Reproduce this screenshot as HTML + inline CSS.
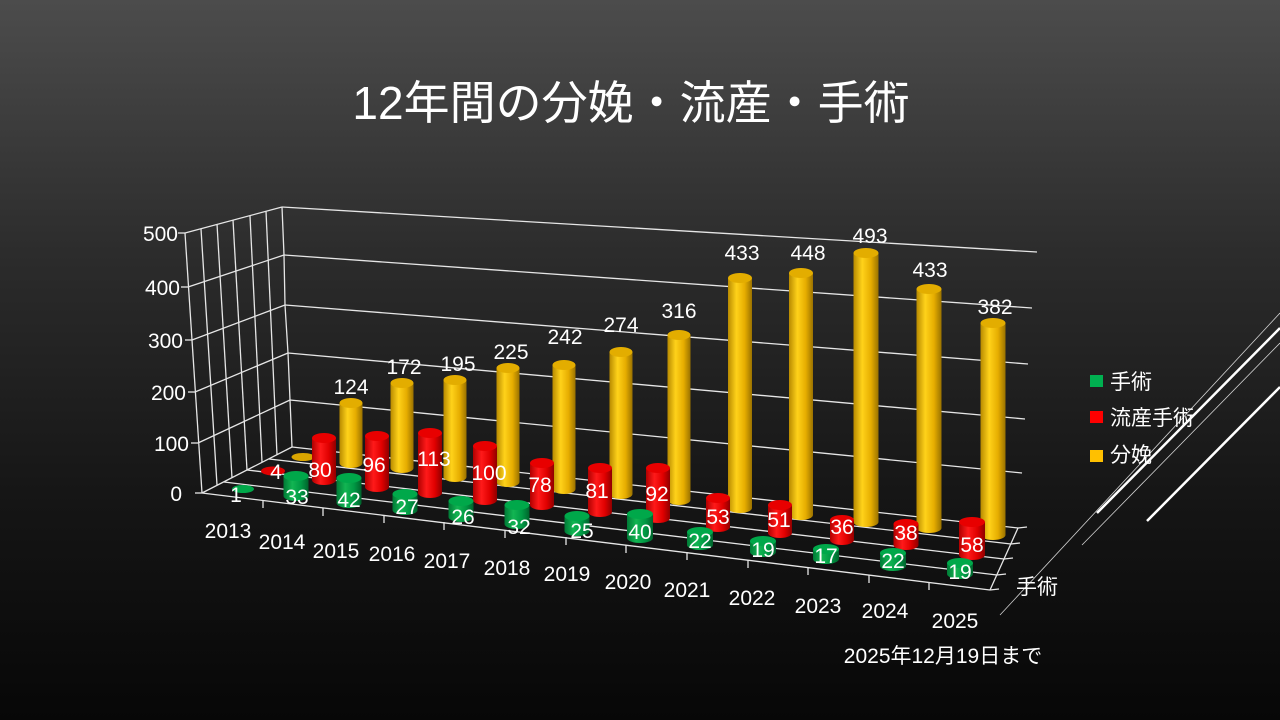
<!DOCTYPE html>
<html><head><meta charset="utf-8"><style>
html,body{margin:0;padding:0;}
body{width:1280px;height:720px;overflow:hidden;background:linear-gradient(180deg,#4c4c4c 0%,#2c2c2c 35%,#151515 70%,#070707 100%);}
svg{display:block;}
text{font-family:"Liberation Sans","Noto Sans CJK JP",sans-serif;fill:#fff;}
</style></head><body>
<svg width="1280" height="720" viewBox="0 0 1280 720" xmlns="http://www.w3.org/2000/svg">
<defs>
<linearGradient id="gy" x1="0" x2="1" y1="0" y2="0"><stop offset="0" stop-color="#b88a00"/><stop offset="0.35" stop-color="#ffd21a"/><stop offset="0.7" stop-color="#e6ad00"/><stop offset="1" stop-color="#9a7200"/></linearGradient>
<linearGradient id="gr" x1="0" x2="1" y1="0" y2="0"><stop offset="0" stop-color="#b00000"/><stop offset="0.35" stop-color="#ff1a1a"/><stop offset="0.7" stop-color="#e00000"/><stop offset="1" stop-color="#8f0000"/></linearGradient>
<linearGradient id="gg" x1="0" x2="1" y1="0" y2="0"><stop offset="0" stop-color="#007a36"/><stop offset="0.35" stop-color="#12b552"/><stop offset="0.7" stop-color="#009944"/><stop offset="1" stop-color="#00632c"/></linearGradient>
</defs>

<text x="631" y="119" font-size="46" text-anchor="middle">12年間の分娩・流産・手術</text>

<g stroke="#e6e6e6" stroke-width="1.3" fill="none">
<line x1="282" y1="207" x2="1037" y2="252"/>
<line x1="284" y1="255" x2="1032" y2="308"/>
<line x1="285" y1="305" x2="1028" y2="364"/>
<line x1="288" y1="353" x2="1025" y2="419"/>
<line x1="290" y1="400" x2="1022" y2="473"/>
<line x1="292" y1="447" x2="1018" y2="528"/>
<polyline points="282,207 284,255 285,305 288,353 290,400 292,447"/>
<line x1="185" y1="233" x2="282" y2="207"/>
<line x1="188" y1="287" x2="284" y2="255"/>
<line x1="192" y1="340" x2="285" y2="305"/>
<line x1="195" y1="392" x2="288" y2="353"/>
<line x1="198" y1="443" x2="290" y2="400"/>
<line x1="202" y1="493" x2="292" y2="447"/>
<line x1="185" y1="233" x2="202" y2="493"/>
<line x1="201" y1="229" x2="217" y2="485"/>
<line x1="217" y1="224" x2="232" y2="478"/>
<line x1="233" y1="220" x2="247" y2="470"/>
<line x1="250" y1="216" x2="262" y2="462"/>
<line x1="266" y1="211" x2="277" y2="455"/>
<line x1="178" y1="233" x2="185" y2="233"/>
<line x1="181" y1="287" x2="188" y2="287"/>
<line x1="185" y1="340" x2="192" y2="340"/>
<line x1="188" y1="392" x2="195" y2="392"/>
<line x1="191" y1="443" x2="198" y2="443"/>
<line x1="195" y1="493" x2="202" y2="493"/>
<line x1="269" y1="459" x2="1011" y2="544"/>
<line x1="247" y1="470" x2="1004" y2="559"/>
<line x1="224" y1="482" x2="997" y2="575"/>
<line x1="202" y1="493" x2="990" y2="590"/>
<line x1="1018" y1="528" x2="990" y2="590"/>
<line x1="1018" y1="528" x2="1027" y2="527"/>
<line x1="1011" y1="544" x2="1020" y2="543"/>
<line x1="1004" y1="559" x2="1013" y2="558"/>
<line x1="997" y1="575" x2="1006" y2="574"/>
<line x1="990" y1="590" x2="999" y2="589"/>
<line x1="263" y1="500" x2="263" y2="508"/><line x1="323" y1="508" x2="323" y2="516"/>
<line x1="384" y1="515" x2="384" y2="523"/><line x1="444" y1="522" x2="444" y2="530"/>
<line x1="505" y1="530" x2="505" y2="538"/><line x1="566" y1="537" x2="566" y2="545"/>
<line x1="626" y1="545" x2="626" y2="553"/><line x1="687" y1="552" x2="687" y2="560"/>
<line x1="748" y1="560" x2="748" y2="568"/><line x1="808" y1="567" x2="808" y2="575"/>
<line x1="869" y1="575" x2="869" y2="583"/><line x1="929" y1="582" x2="929" y2="590"/>
</g>

<g font-size="21" text-anchor="end">
<text x="178" y="241">500</text><text x="180" y="295">400</text><text x="183" y="348">300</text>
<text x="186" y="400">200</text><text x="189" y="451">100</text><text x="182" y="501">0</text>
</g>

<g>
<ellipse cx="303" cy="457" rx="11.5" ry="4" fill="#d9a500"/>
<rect x="339.5" y="403" width="23" height="60" fill="url(#gy)"/><ellipse cx="351" cy="463" rx="11.5" ry="5" fill="url(#gy)"/><ellipse cx="351" cy="403" rx="11.5" ry="5" fill="#e3ad00"/>
<rect x="390.5" y="383" width="23" height="85" fill="url(#gy)"/><ellipse cx="402" cy="468" rx="11.5" ry="5" fill="url(#gy)"/><ellipse cx="402" cy="383" rx="11.5" ry="5" fill="#e3ad00"/>
<rect x="443.5" y="380" width="23" height="97" fill="url(#gy)"/><ellipse cx="455" cy="477" rx="11.5" ry="5" fill="url(#gy)"/><ellipse cx="455" cy="380" rx="11.5" ry="5" fill="#e3ad00"/>
<rect x="496.5" y="368" width="23" height="114" fill="url(#gy)"/><ellipse cx="508" cy="482" rx="11.5" ry="5" fill="url(#gy)"/><ellipse cx="508" cy="368" rx="11.5" ry="5" fill="#e3ad00"/>
<rect x="552.5" y="365" width="23" height="124" fill="url(#gy)"/><ellipse cx="564" cy="489" rx="11.5" ry="5" fill="url(#gy)"/><ellipse cx="564" cy="365" rx="11.5" ry="5" fill="#e3ad00"/>
<rect x="609.5" y="352" width="23" height="142" fill="url(#gy)"/><ellipse cx="621" cy="494" rx="11.5" ry="5" fill="url(#gy)"/><ellipse cx="621" cy="352" rx="11.5" ry="5" fill="#e3ad00"/>
<rect x="667.5" y="335" width="23" height="165" fill="url(#gy)"/><ellipse cx="679" cy="500" rx="11.5" ry="5" fill="url(#gy)"/><ellipse cx="679" cy="335" rx="11.5" ry="5" fill="#e3ad00"/>
<rect x="728" y="278" width="24" height="230" fill="url(#gy)"/><ellipse cx="740" cy="508" rx="12" ry="5" fill="url(#gy)"/><ellipse cx="740" cy="278" rx="12" ry="5" fill="#e3ad00"/>
<rect x="789" y="273" width="24" height="242" fill="url(#gy)"/><ellipse cx="801" cy="515" rx="12" ry="5" fill="url(#gy)"/><ellipse cx="801" cy="273" rx="12" ry="5" fill="#e3ad00"/>
<rect x="853.5" y="253" width="25" height="269" fill="url(#gy)"/><ellipse cx="866" cy="522" rx="12.5" ry="5" fill="url(#gy)"/><ellipse cx="866" cy="253" rx="12.5" ry="5" fill="#e3ad00"/>
<rect x="916.5" y="289" width="25" height="239" fill="url(#gy)"/><ellipse cx="929" cy="528" rx="12.5" ry="5" fill="url(#gy)"/><ellipse cx="929" cy="289" rx="12.5" ry="5" fill="#e3ad00"/>
<rect x="980.5" y="323" width="25" height="212" fill="url(#gy)"/><ellipse cx="993" cy="535" rx="12.5" ry="5" fill="url(#gy)"/><ellipse cx="993" cy="323" rx="12.5" ry="5" fill="#e3ad00"/>
</g>
<g font-size="21" text-anchor="middle">
<text x="351" y="394">124</text><text x="404" y="374">172</text><text x="458" y="371">195</text>
<text x="511" y="359">225</text><text x="565" y="344">242</text><text x="621" y="332">274</text>
<text x="679" y="318">316</text><text x="742" y="260">433</text><text x="808" y="260">448</text>
<text x="870" y="243">493</text><text x="930" y="277">433</text><text x="995" y="314">382</text>
</g>

<g>
<ellipse cx="273" cy="471" rx="12" ry="4.5" fill="#e00000"/>
<rect x="312" y="438" width="24" height="42" fill="url(#gr)"/><ellipse cx="324" cy="480" rx="12" ry="5" fill="url(#gr)"/><ellipse cx="324" cy="438" rx="12" ry="5" fill="#e80000"/>
<rect x="365" y="436" width="24" height="51" fill="url(#gr)"/><ellipse cx="377" cy="487" rx="12" ry="5" fill="url(#gr)"/><ellipse cx="377" cy="436" rx="12" ry="5" fill="#e80000"/>
<rect x="418" y="433" width="24" height="60" fill="url(#gr)"/><ellipse cx="430" cy="493" rx="12" ry="5" fill="url(#gr)"/><ellipse cx="430" cy="433" rx="12" ry="5" fill="#e80000"/>
<rect x="473" y="446" width="24" height="54" fill="url(#gr)"/><ellipse cx="485" cy="500" rx="12" ry="5" fill="url(#gr)"/><ellipse cx="485" cy="446" rx="12" ry="5" fill="#e80000"/>
<rect x="530" y="463" width="24" height="42" fill="url(#gr)"/><ellipse cx="542" cy="505" rx="12" ry="5" fill="url(#gr)"/><ellipse cx="542" cy="463" rx="12" ry="5" fill="#e80000"/>
<rect x="588" y="468" width="24" height="44" fill="url(#gr)"/><ellipse cx="600" cy="512" rx="12" ry="5" fill="url(#gr)"/><ellipse cx="600" cy="468" rx="12" ry="5" fill="#e80000"/>
<rect x="646" y="468" width="24" height="50" fill="url(#gr)"/><ellipse cx="658" cy="518" rx="12" ry="5" fill="url(#gr)"/><ellipse cx="658" cy="468" rx="12" ry="5" fill="#e80000"/>
<rect x="706" y="498" width="24" height="29" fill="url(#gr)"/><ellipse cx="718" cy="527" rx="12" ry="5" fill="url(#gr)"/><ellipse cx="718" cy="498" rx="12" ry="5" fill="#e80000"/>
<rect x="768" y="505" width="24" height="28" fill="url(#gr)"/><ellipse cx="780" cy="533" rx="12" ry="5" fill="url(#gr)"/><ellipse cx="780" cy="505" rx="12" ry="5" fill="#e80000"/>
<rect x="830" y="520" width="24" height="20" fill="url(#gr)"/><ellipse cx="842" cy="540" rx="12" ry="5" fill="url(#gr)"/><ellipse cx="842" cy="520" rx="12" ry="5" fill="#e80000"/>
<rect x="893.5" y="524" width="25" height="21" fill="url(#gr)"/><ellipse cx="906" cy="545" rx="12.5" ry="5" fill="url(#gr)"/><ellipse cx="906" cy="524" rx="12.5" ry="5" fill="#e80000"/>
<rect x="959" y="522" width="26" height="33" fill="url(#gr)"/><ellipse cx="972" cy="555" rx="13" ry="5" fill="url(#gr)"/><ellipse cx="972" cy="522" rx="13" ry="5" fill="#e80000"/>
</g>
<g font-size="21" text-anchor="middle">
<text x="276" y="479">4</text><text x="320" y="477">80</text><text x="374" y="472">96</text>
<text x="434" y="466">113</text><text x="489" y="480">100</text><text x="540" y="492">78</text>
<text x="597" y="498">81</text><text x="657" y="501">92</text><text x="718" y="524">53</text>
<text x="779" y="527">51</text><text x="842" y="534">36</text><text x="906" y="540">38</text>
<text x="972" y="552">58</text>
</g>

<g>
<ellipse cx="243" cy="489" rx="11" ry="4" fill="#00a84a"/>
<rect x="283.5" y="476" width="25" height="20" fill="url(#gg)"/><ellipse cx="296" cy="496" rx="12.5" ry="5" fill="url(#gg)"/><ellipse cx="296" cy="476" rx="12.5" ry="5" fill="#00a84a"/>
<rect x="336.5" y="478" width="25" height="25" fill="url(#gg)"/><ellipse cx="349" cy="503" rx="12.5" ry="5" fill="url(#gg)"/><ellipse cx="349" cy="478" rx="12.5" ry="5" fill="#00a84a"/>
<rect x="392.5" y="494" width="25" height="16" fill="url(#gg)"/><ellipse cx="405" cy="510" rx="12.5" ry="5" fill="url(#gg)"/><ellipse cx="405" cy="494" rx="12.5" ry="5" fill="#00a84a"/>
<rect x="448.5" y="501" width="25" height="16" fill="url(#gg)"/><ellipse cx="461" cy="517" rx="12.5" ry="5" fill="url(#gg)"/><ellipse cx="461" cy="501" rx="12.5" ry="5" fill="#00a84a"/>
<rect x="504.5" y="505" width="25" height="19" fill="url(#gg)"/><ellipse cx="517" cy="524" rx="12.5" ry="5" fill="url(#gg)"/><ellipse cx="517" cy="505" rx="12.5" ry="5" fill="#00a84a"/>
<rect x="564.5" y="516" width="25" height="15" fill="url(#gg)"/><ellipse cx="577" cy="531" rx="12.5" ry="5" fill="url(#gg)"/><ellipse cx="577" cy="516" rx="12.5" ry="5" fill="#00a84a"/>
<rect x="627" y="514" width="26" height="24" fill="url(#gg)"/><ellipse cx="640" cy="538" rx="13" ry="5" fill="url(#gg)"/><ellipse cx="640" cy="514" rx="13" ry="5" fill="#00a84a"/>
<rect x="687" y="532" width="26" height="13" fill="url(#gg)"/><ellipse cx="700" cy="545" rx="13" ry="5" fill="url(#gg)"/><ellipse cx="700" cy="532" rx="13" ry="5" fill="#00a84a"/>
<rect x="750" y="541" width="26" height="11" fill="url(#gg)"/><ellipse cx="763" cy="552" rx="13" ry="5" fill="url(#gg)"/><ellipse cx="763" cy="541" rx="13" ry="5" fill="#00a84a"/>
<rect x="813" y="549" width="26" height="10" fill="url(#gg)"/><ellipse cx="826" cy="559" rx="13" ry="5" fill="url(#gg)"/><ellipse cx="826" cy="549" rx="13" ry="5" fill="#00a84a"/>
<rect x="880" y="553" width="26" height="13" fill="url(#gg)"/><ellipse cx="893" cy="566" rx="13" ry="5" fill="url(#gg)"/><ellipse cx="893" cy="553" rx="13" ry="5" fill="#00a84a"/>
<rect x="947" y="563" width="26" height="11" fill="url(#gg)"/><ellipse cx="960" cy="574" rx="13" ry="5" fill="url(#gg)"/><ellipse cx="960" cy="563" rx="13" ry="5" fill="#00a84a"/>
</g>
<g font-size="21" text-anchor="middle">
<text x="236" y="502">1</text><text x="297" y="504">33</text><text x="349" y="507">42</text>
<text x="407" y="514">27</text><text x="463" y="524">26</text><text x="519" y="534">32</text>
<text x="582" y="538">25</text><text x="640" y="539">40</text><text x="700" y="548">22</text>
<text x="763" y="557">19</text><text x="826" y="563">17</text><text x="893" y="568">22</text>
<text x="960" y="579">19</text>
</g>

<g font-size="21" text-anchor="middle">
<text x="228" y="538">2013</text><text x="282" y="549">2014</text><text x="336" y="558">2015</text>
<text x="392" y="561">2016</text><text x="447" y="568">2017</text><text x="507" y="575">2018</text>
<text x="567" y="581">2019</text><text x="628" y="589">2020</text><text x="687" y="597">2021</text>
<text x="752" y="605">2022</text><text x="818" y="613">2023</text><text x="885" y="618">2024</text>
<text x="955" y="628">2025</text>
</g>
<text x="1037" y="594" font-size="21" text-anchor="middle">手術</text>
<text x="943" y="663" font-size="21" text-anchor="middle">2025年12月19日まで</text>

<rect x="1090" y="375" width="13" height="12" fill="#00b050"/>
<rect x="1090" y="411" width="13" height="12" fill="#ff0000"/>
<rect x="1090" y="450" width="13" height="12" fill="#ffc000"/>
<g font-size="21"><text x="1110" y="389">手術</text><text x="1110" y="425">流産手術</text><text x="1110" y="462">分娩</text></g>

<g stroke="#fff" fill="none">
<line x1="1000" y1="615" x2="1280" y2="313" stroke-width="0.8" stroke-opacity="0.8"/>
<line x1="1097" y1="513" x2="1280" y2="328" stroke-width="2.5"/>
<line x1="1082" y1="545" x2="1280" y2="343" stroke-width="0.8" stroke-opacity="0.8"/>
<line x1="1147" y1="521" x2="1280" y2="387" stroke-width="2.5"/>
</g>
</svg>
</body></html>
